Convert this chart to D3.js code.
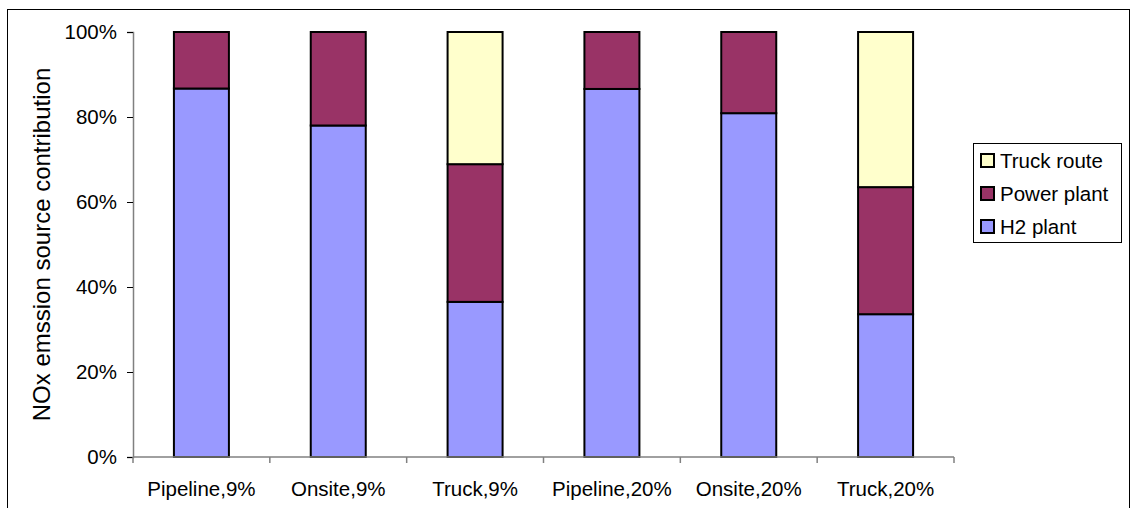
<!DOCTYPE html>
<html>
<head>
<meta charset="utf-8">
<script src="https://cdn.jsdelivr.net/npm/d3@7"></script>
<style>
  html, body { margin: 0; padding: 0; background: #fff; }
  svg { display: block; font-family: "Liberation Sans", Arial, sans-serif; }
</style>
</head>
<body>
<svg id="chart" width="1136" height="508"></svg>
<script>
// Scenario categories along the x axis
const categories = ["Pipeline,9%", "Onsite,9%", "Truck,9%", "Pipeline,20%", "Onsite,20%", "Truck,20%"];
// Share of NOx emissions by source (percent), stacked bottom to top
const h2Plant    = [86.7, 78.0, 36.5, 86.6, 80.9, 33.6];
const powerPlant = [13.3, 22.0, 32.4, 13.4, 19.1, 29.9];
const truckRoute = [0.0,  0.0,  31.1, 0.0,  0.0,  36.5];
const seriesNames = ["H2 plant", "Power plant", "Truck route"];
const seriesColors = ["#9999FF", "#993366", "#FFFFCC"];
const yTicks = [0, 20, 40, 60, 80, 100];

const FONT = "Liberation Sans, Arial, sans-serif";
const svg = d3.select("#chart");
const margin = { left: 133, right: 182, top: 32, bottom: 51 };
const W = 1136, H = 508;

// outer chart frame
svg.append("rect").attr("x", 7.5).attr("y", 9.5).attr("width", 1122).attr("height", 520)
  .attr("fill", "none").attr("stroke", "#000").attr("stroke-width", 1);

const xBand = d3.scaleBand().domain(categories).range([margin.left, W - margin.right]);
const y = d3.scaleLinear().domain([0, 100]).range([H - margin.bottom, margin.top]);
const barW = 55;

const rows = categories.map((c, i) => ({ cat: c, "H2 plant": h2Plant[i], "Power plant": powerPlant[i], "Truck route": truckRoute[i] }));
const stacked = d3.stack().keys(seriesNames)(rows);

const g = svg.append("g");
stacked.forEach((layer, si) => {
  g.selectAll(null).data(layer.filter(d => d[1] - d[0] > 0)).join("rect")
    .attr("x", d => xBand(d.data.cat) + (xBand.bandwidth() - barW) / 2)
    .attr("width", barW)
    .attr("y", d => y(d[1]))
    .attr("height", d => y(d[0]) - y(d[1]))
    .attr("fill", seriesColors[si])
    .attr("stroke", "#000")
    .attr("stroke-width", 2);
});

// y axis
const yAxis = svg.append("g").attr("transform", `translate(${margin.left},0)`)
  .call(d3.axisLeft(y).tickValues(yTicks).tickFormat(d => d + "%").tickSize(6).tickPadding(10));
yAxis.select(".domain").attr("stroke", "#808080").attr("stroke-width", 1.5);
yAxis.selectAll(".tick line").attr("stroke", "#000");
yAxis.selectAll("text").attr("font-size", 20.5).attr("fill", "#000").attr("font-family", FONT);

// x axis with ticks at category boundaries
const xAxisG = svg.append("g").attr("transform", `translate(0,${H - margin.bottom})`);
xAxisG.append("line").attr("x1", margin.left).attr("x2", W - margin.right)
  .attr("stroke", "#808080").attr("stroke-width", 1.5);
const bounds = categories.map(c => xBand(c)).concat([W - margin.right]);
xAxisG.selectAll(".bt").data(bounds).join("line")
  .attr("x1", d => d).attr("x2", d => d).attr("y1", 0).attr("y2", 6)
  .attr("stroke", "#808080").attr("stroke-width", 1.5);
xAxisG.selectAll(".lbl").data(categories).join("text")
  .attr("x", d => xBand(d) + xBand.bandwidth() / 2)
  .attr("y", 39)
  .attr("text-anchor", "middle")
  .attr("font-size", 20.5)
  .text(d => d);

// y axis title
svg.append("text")
  .attr("transform", `translate(50,${(margin.top + H - margin.bottom) / 2}) rotate(-90)`)
  .attr("text-anchor", "middle")
  .attr("font-size", 24)
  .text("NOx emssion source contribution");

// legend, top entry first
const lg = svg.append("g").attr("transform", "translate(973.5,143.5)");
lg.append("rect").attr("width", 148).attr("height", 99).attr("fill", "#fff").attr("stroke", "#000").attr("stroke-width", 1);
const legendOrder = [2, 1, 0];
legendOrder.forEach((si, i) => {
  const cy = 17 + i * 33;
  lg.append("rect").attr("x", 7.5).attr("y", cy - 6.5).attr("width", 13).attr("height", 13)
    .attr("fill", seriesColors[si]).attr("stroke", "#000").attr("stroke-width", 2);
  lg.append("text").attr("x", 26.5).attr("y", cy + 7.5).attr("font-size", 20.5).text(seriesNames[si]);
});
</script>
</body>
</html>
